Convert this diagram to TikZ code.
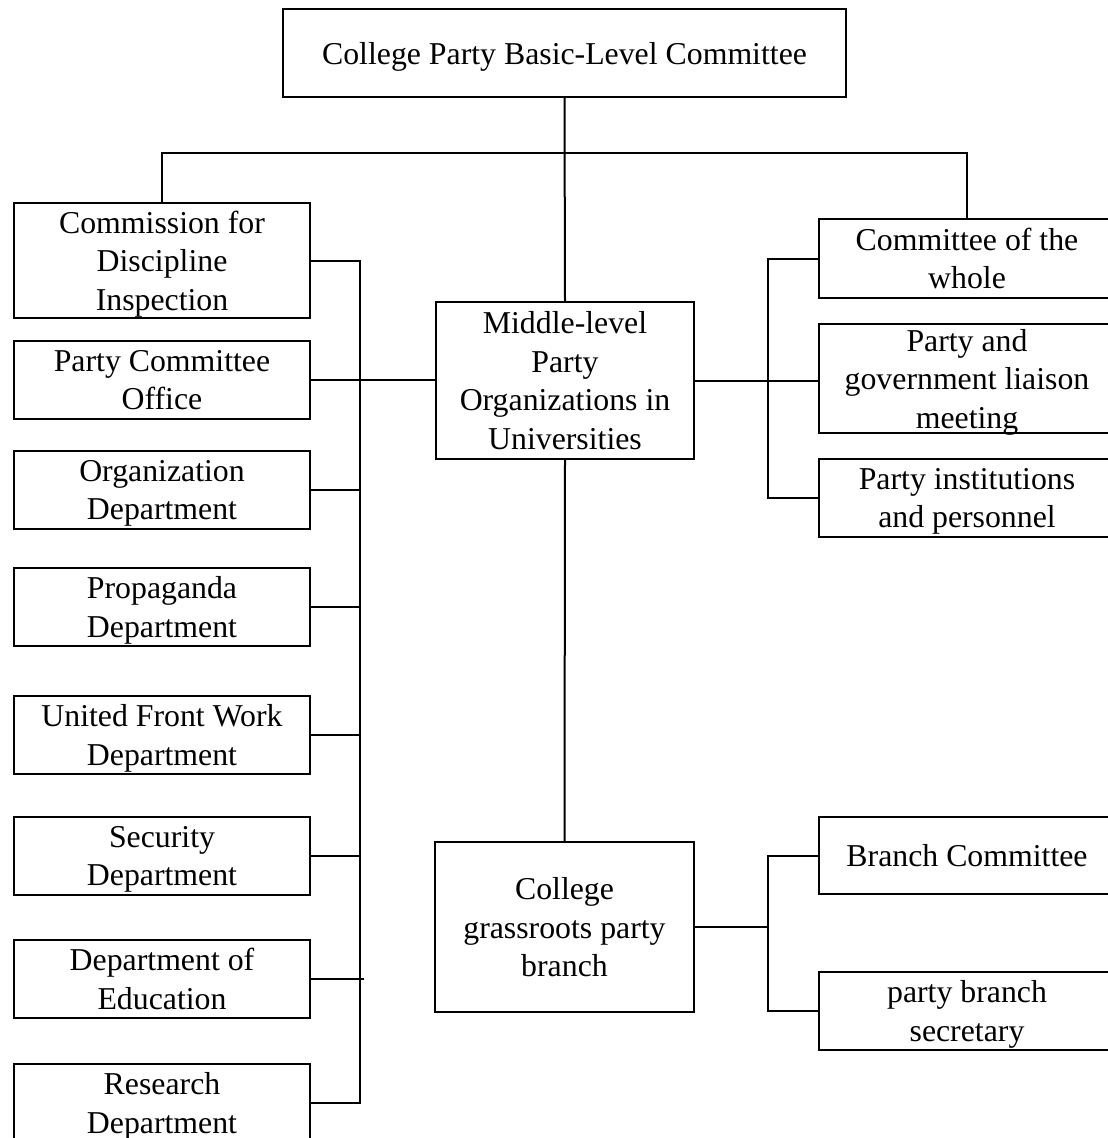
\documentclass[tikz,border=0pt]{standalone}
\usepackage{fontspec}
\setmainfont{Liberation Serif}
\begin{document}
\begin{tikzpicture}[x=1pt,y=-1pt,
  box/.style={draw=black,line width=2.3pt,rectangle,inner sep=0pt,align=center,
    text depth=0pt,font=\fontsize{31.8}{38.5}\selectfont},
  lbox/.style={box,minimum width=296pt},
  rbox/.style={box,minimum width=296pt},
  link/.style={draw=black,line width=2pt}]
\useasboundingbox (0,0) rectangle (1108,1138);
\fill[white] (0,0) rectangle (1108,1138);
% top
\node[box,minimum width=563pt,minimum height=88pt] (top) at (564.5,53) {College Party Basic-Level Committee};
% left column
\node[lbox,minimum height=115pt] (comm) at (162,260.5) {Commission for\\Discipline\\Inspection};
\node[lbox,minimum height=78pt] (pco) at (162,380) {Party Committee\\Office};
\node[lbox,minimum height=78pt] (org) at (162,490) {Organization\\Department};
\node[lbox,minimum height=78pt] (prop) at (162,607) {Propaganda\\Department};
\node[lbox,minimum height=78pt] (ufw) at (162,735) {United Front Work\\Department};
\node[lbox,minimum height=78pt] (sec) at (162,856) {Security\\Department};
\node[lbox,minimum height=78pt] (edu) at (162,979) {Department of\\Education};
\node[lbox,minimum height=78pt] (res) at (162,1103) {Research\\Department};
% middle
\node[box,minimum width=258pt,minimum height=157pt] (mid) at (565,380.5) {Middle-level\\Party\\Organizations in\\Universities};
\node[box,minimum width=259pt,minimum height=170pt] (grass) at (564.5,927) {College\\grassroots party\\branch};
% right column
\node[rbox,minimum height=79pt] (cotw) at (967,258.5) {Committee of the\\whole};
\node[rbox,minimum height=109pt] (pgl) at (967,378.5) {Party and\\government liaison\\meeting};
\node[rbox,minimum height=78pt] (pip) at (967,498) {Party institutions\\and personnel};
\node[rbox,minimum height=77pt] (bc) at (967,855.5) {Branch Committee};
\node[rbox,minimum height=78pt] (pbs) at (967,1011) {party branch\\secretary};
% helper coordinates
\coordinate (hb) at (565,153);
\coordinate (lb) at (360,0);
\coordinate (rb) at (768,0);
% connectors
\draw[link] (top.south) -- (mid.north);
\draw[link] (comm.north) |- (hb) -| (cotw.north);
\draw[link] (comm.east) -| (lb |- res.east) -- (res.east);
\draw[link] (pco.east) -- (pco.east -| mid.west);
\draw[link] (org.east) -- (org.east -| lb);
\draw[link] (prop.east) -- (prop.east -| lb);
\draw[link] (ufw.east) -- (ufw.east -| lb);
\draw[link] (sec.east) -- (sec.east -| lb);
\draw[link] (edu.east) -- ([xshift=4pt]edu.east -| lb);
\draw[link] (mid.east) -- (mid.east -| pgl.west);
\draw[link] (cotw.west) -| (rb |- pip.west) -- (pip.west);
\draw[link] (mid.south) -- (grass.north);
\draw[link] (grass.east) -- (grass.east -| rb);
\draw[link] (bc.west) -| (rb |- pbs.west) -- (pbs.west);
\end{tikzpicture}
\end{document}
